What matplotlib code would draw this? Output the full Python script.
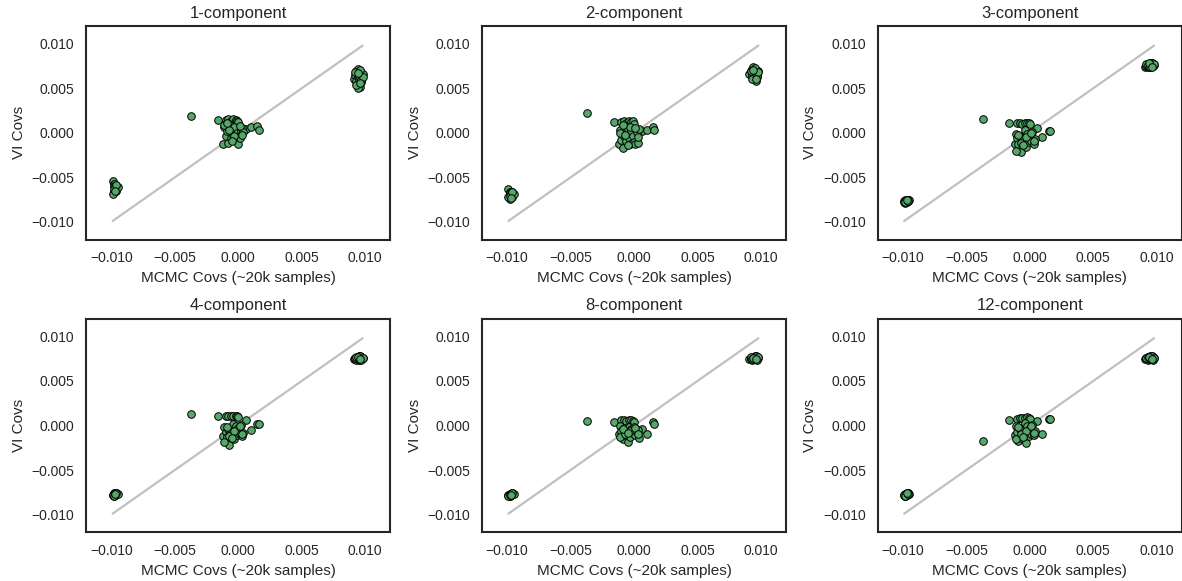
import matplotlib
matplotlib.use("Agg")
import matplotlib.pyplot as plt
import numpy as np
import seaborn as sns

# =========================
# Data: MCMC covs (x, same for every panel) and VI covs (y, per panel)
# =========================
mcmc_center = [-0.0037, -0.0016, -0.0010, -0.0008, -0.0006, -0.0004, -0.0002, -0.0001, 0.0000,
               0.0006, 0.0010, 0.0015, 0.0016, -0.0012, -0.0011, -0.0010, -0.0009, -0.0008,
               -0.0007, -0.0006, -0.0005, -0.0004, -0.0003, -0.0002, -0.0001, 0.0000, 0.0001,
               0.0002, 0.0003, 0.0004, -0.0011, -0.0007, -0.0003, 0.0001, 0.0003, -0.0009, -0.0005]
mcmc_low = [-0.0099, -0.0098, -0.0098, -0.0097, -0.0097, -0.0097, -0.0096, -0.0096,
            -0.0098, -0.0097, -0.0096, -0.0099, -0.0095, -0.0098, -0.0096, -0.0097]
mcmc_high = [0.0091, 0.0092, 0.0093, 0.0093, 0.0094, 0.0094, 0.0095, 0.0095,
             0.0095, 0.0096, 0.0096, 0.0096, 0.0097, 0.0097, 0.0098, 0.0094,
             0.0092, 0.0093, 0.0095, 0.0096, 0.0097, 0.0098, 0.0094, 0.0096]

titles = ["1-component", "2-component", "3-component", "4-component", "8-component", "12-component"]

vi_center_1 = [0.0019, 0.0014, 0.0014, 0.0015, 0.0013, 0.0015, 0.0014, 0.0013, 0.0012,
               0.0004, 0.0007, 0.0008, 0.0003, -0.0013, 0.0007, -0.0003, 0.0002, -0.0011,
               0.0010, -0.0006, 0.0003, -0.0002, 0.0006, -0.0008, 0.0000, -0.0013, -0.0006,
               0.0002, 0.0005, 0.0001, 0.0009, 0.0003, -0.0004, 0.0008, -0.0002, 0.0011, -0.0009]
vi_low_1 = [-0.0054, -0.0058, -0.0060, -0.0061, -0.0062, -0.0063, -0.0064, -0.0065,
            -0.0066, -0.0062, -0.0060, -0.0069, -0.0061, -0.0063, -0.0059, -0.0065]
vi_high_1 = [0.0061, 0.0065, 0.0058, 0.0070, 0.0063, 0.0072, 0.0055, 0.0067,
             0.0060, 0.0052, 0.0069, 0.0064, 0.0057, 0.0062, 0.0066, 0.0050,
             0.0068, 0.0054, 0.0064, 0.0071, 0.0059, 0.0063, 0.0067, 0.0056]

vi_center_2 = [0.0022, 0.0012, 0.0012, 0.0013, 0.0011, 0.0013, 0.0012, 0.0013, 0.0010,
               0.0002, 0.0003, 0.0006, 0.0003, -0.0012, 0.0003, -0.0008, -0.0017, -0.0004,
               0.0008, -0.0009, 0.0004, -0.0006, -0.0013, 0.0002, -0.0003, -0.0010, -0.0013,
               0.0001, -0.0011, 0.0004, 0.0000, -0.0002, 0.0007, 0.0005, -0.0005, 0.0009, -0.0014]
vi_low_2 = [-0.0063, -0.0066, -0.0068, -0.0069, -0.0070, -0.0071, -0.0072, -0.0067,
            -0.0074, -0.0070, -0.0068, -0.0072, -0.0069, -0.0071, -0.0066, -0.0073]
vi_high_2 = [0.0066, 0.0070, 0.0064, 0.0072, 0.0068, 0.0074, 0.0060, 0.0069,
             0.0066, 0.0058, 0.0071, 0.0067, 0.0063, 0.0065, 0.0070, 0.0062,
             0.0069, 0.0061, 0.0073, 0.0066, 0.0064, 0.0068, 0.0071, 0.0060]

vi_center_3 = [0.0016, 0.0011, 0.0011, 0.0011, 0.0010, 0.0011, 0.0011, 0.0011, 0.0010,
               0.0005, -0.0005, 0.0002, 0.0002, -0.0013, -0.0001, -0.0006, -0.0013, -0.0003,
               -0.0022, -0.0008, -0.0006, 0.0003, -0.0016, -0.0001, -0.0010, -0.0003, -0.0009,
               0.0001, -0.0012, -0.0007, -0.0020, -0.0011, -0.0005, 0.0000, -0.0009, -0.0002, -0.0014]
vi_low_3 = [-0.0077, -0.0076, -0.0078, -0.0077, -0.0078, -0.0076, -0.0076, -0.0077,
            -0.0079, -0.0077, -0.0075, -0.0078, -0.0076, -0.0078, -0.0077, -0.0076]
vi_high_3 = [0.0074, 0.0075, 0.0076, 0.0074, 0.0077, 0.0075, 0.0078, 0.0076,
             0.0074, 0.0077, 0.0078, 0.0075, 0.0077, 0.0076, 0.0076, 0.0075,
             0.0077, 0.0076, 0.0074, 0.0078, 0.0075, 0.0077, 0.0078, 0.0074]

vi_center_4 = [0.0013, 0.0011, 0.0011, 0.0011, 0.0011, 0.0011, 0.0011, 0.0011, 0.0010,
               0.0006, -0.0005, 0.0002, 0.0002, -0.0012, -0.0002, -0.0007, -0.0013, -0.0004,
               -0.0022, -0.0008, -0.0005, 0.0002, -0.0015, -0.0001, -0.0011, -0.0003, -0.0010,
               0.0001, -0.0012, -0.0008, -0.0019, -0.0012, -0.0006, 0.0000, -0.0009, -0.0002, -0.0014]
vi_low_4 = [-0.0078, -0.0076, -0.0078, -0.0077, -0.0078, -0.0076, -0.0076, -0.0077,
            -0.0079, -0.0077, -0.0076, -0.0078, -0.0077, -0.0079, -0.0076, -0.0077]
vi_high_4 = [0.0075, 0.0075, 0.0076, 0.0074, 0.0077, 0.0075, 0.0078, 0.0076,
             0.0074, 0.0077, 0.0078, 0.0075, 0.0077, 0.0076, 0.0076, 0.0075,
             0.0076, 0.0077, 0.0075, 0.0078, 0.0074, 0.0076, 0.0077, 0.0075]

vi_center_8 = [0.0005, 0.0004, 0.0006, 0.0006, 0.0005, 0.0006, 0.0006, 0.0005, 0.0004,
               -0.0004, -0.0009, 0.0004, 0.0002, -0.0010, 0.0000, -0.0006, -0.0015, -0.0003,
               -0.0011, -0.0006, -0.0019, -0.0002, -0.0013, -0.0004, -0.0008, -0.0002, -0.0011,
               -0.0007, -0.0005, -0.0014, -0.0013, -0.0009, -0.0006, -0.0003, -0.0010, -0.0004, -0.0008]
vi_low_8 = [-0.0078, -0.0077, -0.0079, -0.0077, -0.0078, -0.0077, -0.0076, -0.0077,
            -0.0079, -0.0078, -0.0076, -0.0079, -0.0077, -0.0078, -0.0076, -0.0078]
vi_high_8 = [0.0075, 0.0075, 0.0076, 0.0074, 0.0077, 0.0076, 0.0078, 0.0076,
             0.0075, 0.0077, 0.0078, 0.0075, 0.0077, 0.0077, 0.0076, 0.0076,
             0.0077, 0.0075, 0.0076, 0.0078, 0.0074, 0.0077, 0.0076, 0.0075]

vi_center_12 = [-0.0017, 0.0006, 0.0007, 0.0008, 0.0008, 0.0008, 0.0009, 0.0008, 0.0007,
                0.0005, -0.0009, 0.0007, 0.0007, -0.0011, -0.0001, -0.0007, -0.0017, -0.0004,
                -0.0014, -0.0008, -0.0005, 0.0003, -0.0020, -0.0001, -0.0012, -0.0003, -0.0009,
                0.0001, -0.0011, -0.0006, -0.0015, -0.0010, -0.0006, 0.0000, -0.0008, -0.0002, -0.0013]
vi_low_12 = [-0.0078, -0.0077, -0.0079, -0.0077, -0.0078, -0.0076, -0.0076, -0.0077,
             -0.0079, -0.0078, -0.0076, -0.0078, -0.0077, -0.0079, -0.0077, -0.0076]
vi_high_12 = [0.0075, 0.0076, 0.0077, 0.0074, 0.0077, 0.0076, 0.0078, 0.0076,
              0.0075, 0.0077, 0.0078, 0.0075, 0.0077, 0.0076, 0.0076, 0.0075,
              0.0076, 0.0077, 0.0075, 0.0078, 0.0074, 0.0076, 0.0077, 0.0075]

vi_panels = [
    (vi_center_1, vi_low_1, vi_high_1),
    (vi_center_2, vi_low_2, vi_high_2),
    (vi_center_3, vi_low_3, vi_high_3),
    (vi_center_4, vi_low_4, vi_high_4),
    (vi_center_8, vi_low_8, vi_high_8),
    (vi_center_12, vi_low_12, vi_high_12),
]

# =========================
# Style
# =========================
sns.set_style("white")
plt.rcParams["font.family"] = ["Liberation Sans", "DejaVu Sans"]
plt.rcParams["axes.titlesize"] = 12
plt.rcParams["axes.labelsize"] = 11
plt.rcParams["xtick.labelsize"] = 10
plt.rcParams["ytick.labelsize"] = 10
plt.rcParams["axes.linewidth"] = 1.5


def _fmt(v, pos):
    return f"{v:.3f}".replace("-", "\u2212")


mcmc = np.array(mcmc_center + mcmc_low + mcmc_high)
lims = [mcmc.min(), mcmc.max()]

fig, axes = plt.subplots(2, 3, figsize=(11.82, 5.81), dpi=100)
fig.subplots_adjust(left=0.0728, right=1.0, top=0.9552, bottom=0.0838,
                    wspace=0.30, hspace=0.37)

for ax, title, (yc, yl, yh) in zip(axes.flat, titles, vi_panels):
    vi = np.array(yc + yl + yh)
    ax.plot(lims, lims, color="#c0c0c0", lw=1.6, zorder=1)
    ax.scatter(mcmc, vi, s=30, color="#55A868", edgecolor="black",
               linewidths=0.7, zorder=2)
    ax.set_xlim(-0.012, 0.012)
    ax.set_ylim(-0.012, 0.012)
    ax.set_xticks([-0.010, -0.005, 0.0, 0.005, 0.010])
    ax.set_yticks([-0.010, -0.005, 0.0, 0.005, 0.010])
    ax.xaxis.set_major_formatter(matplotlib.ticker.FuncFormatter(_fmt))
    ax.yaxis.set_major_formatter(matplotlib.ticker.FuncFormatter(_fmt))
    ax.tick_params(axis="both", pad=5)
    ax.set_title(title)
    ax.set_xlabel("MCMC Covs (~20k samples)")
    ax.set_ylabel("VI Covs")

fig.savefig("out.png", dpi=100)
